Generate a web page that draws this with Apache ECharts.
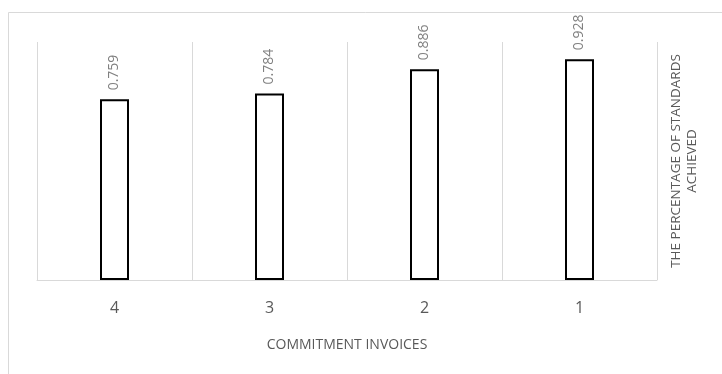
<!DOCTYPE html>
<html>
<head>
<meta charset="utf-8">
<script src="https://cdn.jsdelivr.net/npm/echarts@6/dist/echarts.min.js"></script>
<style>
  html, body { margin: 0; padding: 0; background: #fff; }
  #bar-chart { width: 722px; height: 374px; }
</style>
</head>
<body>
<div id="bar-chart"></div>
<script>
// chart data
var categories = ['4', '3', '2', '1'];
var standardsAchieved = [0.759, 0.784, 0.886, 0.928];

var myChart = echarts.init(document.getElementById('bar-chart'));

var option = {
    backgroundColor: '#fff',
    animation: false,
    textStyle: { fontFamily: 'Open Sans' },
    // outer chart border (starts inside the frame, runs off the right/bottom edge)
    graphic: [{
        type: 'rect',
        shape: { x: 8.5, y: 12.5, width: 760, height: 400 },
        style: { fill: 'none', stroke: '#d9d9d9', lineWidth: 1 },
        silent: true
    }],
    grid: { left: 37, right: 65, top: 42, bottom: 94 },
    xAxis: {
        type: 'category',
        data: categories,
        name: 'COMMITMENT INVOICES',
        nameLocation: 'middle',
        nameGap: 58,
        nameTextStyle: { color: '#595959', fontSize: 14 },
        axisLine: { lineStyle: { color: '#d9d9d9', width: 1 } },
        axisTick: { show: false },
        axisLabel: { color: '#595959', fontSize: 16, margin: 20 },
        splitLine: { show: true, interval: 0, lineStyle: { color: '#d9d9d9', width: 1 } }
    },
    yAxis: {
        type: 'value',
        position: 'right',
        min: 0,
        max: 1,
        name: 'THE PERCENTAGE OF STANDARDS\nACHIEVED',
        nameLocation: 'middle',
        nameGap: 11,
        nameTextStyle: { color: '#595959', fontSize: 13.5, lineHeight: 16, align: 'center' },
        axisLine: { show: false },
        axisTick: { show: false },
        axisLabel: { show: false },
        splitLine: { show: false }
    },
    series: [{
        type: 'bar',
        data: standardsAchieved,
        barWidth: 29,
        itemStyle: { color: '#fff', borderColor: '#000', borderWidth: 2 },
        label: {
            show: true,
            position: 'top',
            rotate: 90,
            align: 'left',
            verticalAlign: 'middle',
            distance: 9,
            color: '#808080',
            fontSize: 14
        }
    }]
};

myChart.setOption(option);
</script>
</body>
</html>
